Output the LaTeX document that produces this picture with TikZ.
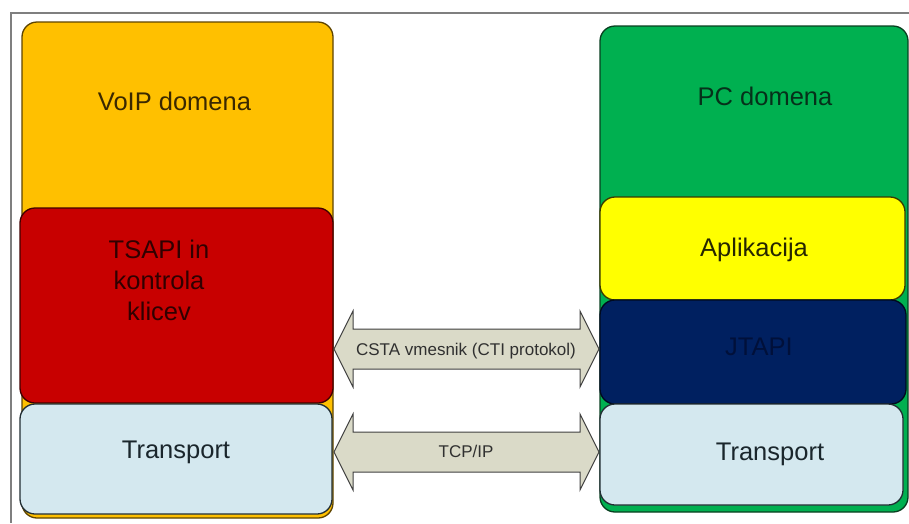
\documentclass[tikz,border=0pt]{standalone}
\usepackage{fontspec}
\setmainfont{Liberation Sans}

% fills and outlines of the layers
\definecolor{voipfill}{HTML}{FFC000}
\definecolor{voipline}{HTML}{5E4400}
\definecolor{redfill}{HTML}{C80000}
\definecolor{redline}{HTML}{400000}
\definecolor{transfill}{HTML}{D4E8EF}
\definecolor{transline}{HTML}{222E33}
\definecolor{pcfill}{HTML}{00B050}
\definecolor{pcline}{HTML}{093F20}
\definecolor{aplfill}{HTML}{FFFF00}
\definecolor{aplline}{HTML}{3A3A00}
\definecolor{jtfill}{HTML}{002060}
\definecolor{jtline}{HTML}{000A1E}
\definecolor{arrowfill}{HTML}{DADAC8}
\definecolor{arrowline}{HTML}{404040}
\definecolor{framegray}{HTML}{7F7F7F}
% text tints
\definecolor{voiptext}{HTML}{3A2800}
\definecolor{pctext}{HTML}{06301A}
\definecolor{redtext}{HTML}{300000}
\definecolor{apltext}{HTML}{262600}
\definecolor{jttext}{HTML}{00103A}
\definecolor{transtext}{HTML}{1A262C}
\definecolor{arrowtext}{HTML}{303030}

\begin{document}
\begin{tikzpicture}[x=1pt,y=-1pt,
  layer/.style={line width=1.3pt, rounded corners=15pt, inner sep=0pt, outer sep=0pt},
  big/.style={font=\fontsize{25.5}{31}\selectfont, align=center, inner sep=0pt},
  small/.style={font=\fontsize{17}{20}\selectfont, inner sep=0pt},
  barrow/.style={fill=arrowfill, draw=arrowline, line width=1pt, line join=miter},
  dblarrow/.pic={
    \draw[barrow] (-132.5,0) -- (-113.5,-38) -- (-113.5,-20) -- (113.5,-20)
      -- (113.5,-38) -- (132.5,0) -- (113.5,38) -- (113.5,20)
      -- (-113.5,20) -- (-113.5,38) -- cycle;}]
\useasboundingbox (0,0) rectangle (909,523);

% page frame
\draw[framegray, line width=1.2pt] (909,13) -- (11,13) -- (11,523);

% VoIP stack
\node[layer, fill=voipfill, draw=voipline, minimum width=311, minimum height=496] (voip) at (177.5,270) {};
\node[layer, fill=redfill, draw=redline, minimum width=313, minimum height=195] (tsapi) at (176.5,305.5) {};
\node[layer, fill=transfill, draw=transline, minimum width=312, minimum height=110] (transL) at (176,459) {};

% PC stack
\node[layer, fill=pcfill, draw=pcline, minimum width=308, minimum height=486] (pc) at (754,269) {};
\node[layer, fill=aplfill, draw=aplline, minimum width=305, minimum height=103] (apl) at (752.5,248.5) {};
\node[layer, fill=jtfill, draw=jtline, minimum width=306, minimum height=104] (jtapi) at (753,352) {};
\node[layer, fill=transfill, draw=transline, minimum width=303, minimum height=101] (transR) at (751.5,454.5) {};

% labels
\node[big, text=voiptext, anchor=base] (voiplbl) at (174.5,110) {VoIP domena};
\node[big, text=pctext, anchor=base] (pclbl) at (765,105) {PC domena};
\node[big, text=redtext, font=\fontsize{25.5}{31}\selectfont] (tsapilbl) at (159,280) {TSAPI in\\kontrola\\klicev};
\node[big, text=apltext, anchor=base] (apllbl) at (754,256) {Aplikacija};
\node[big, text=jttext, anchor=base] (jtlbl) at (759,355) {JTAPI};
\node[big, text=transtext, anchor=base] (transLlbl) at (176,458) {Transport};
\node[big, text=transtext, anchor=base] (transRlbl) at (770,460) {Transport};

% connections between the stacks
\pic at (466.5,349) {dblarrow};
\pic at (466.5,452) {dblarrow};
\node[small, text=arrowtext, anchor=base] (cstalbl) at (466,355) {CSTA vmesnik (CTI protokol)};
\node[small, text=arrowtext, anchor=base] (tcplbl) at (466,457) {TCP/IP};
\end{tikzpicture}
\end{document}
